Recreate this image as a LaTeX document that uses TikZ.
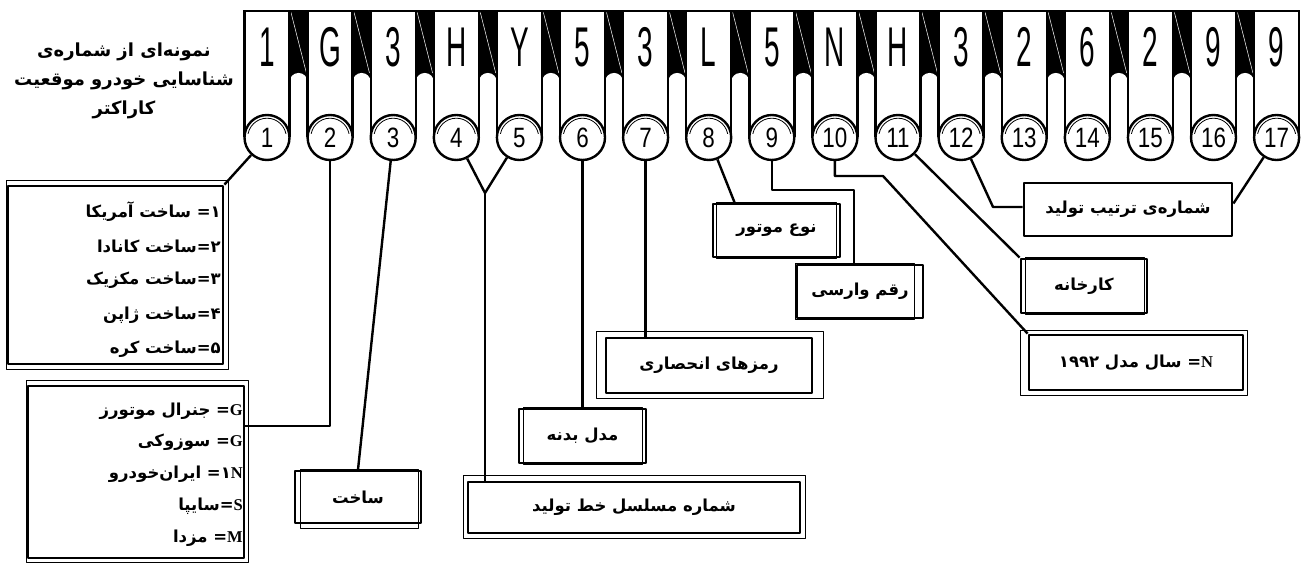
\documentclass[tikz,border=0pt]{standalone}
\usepackage{fontspec}
\TeXXeTstate=1
\newfontfamily\fa[Script=Arabic]{DejaVu Sans}
\newfontfamily\lat{Liberation Serif}
\newfontfamily\cond[FakeStretch=0.5]{Liberation Sans}
\newfontfamily\condc[FakeStretch=0.8]{Liberation Sans}
\newcommand\thinfr[5]{\draw[line width=0.7pt] ([xshift=#2pt,yshift=#3pt]#1.north west) rectangle ([xshift=#4pt,yshift=#5pt]#1.south east);}
\begin{document}
\begin{tikzpicture}[x=1pt,y=-1pt,line join=round,
  conn/.style={line width=2.4pt},
  edge/.style={line width=2.4pt},
  lbox/.style={draw,rectangle,line width=2.8pt,inner sep=0pt,font=\fa\bfseries\fontsize{16.5}{18}\selectfont},
  ltxt/.style={anchor=east,inner sep=0pt,font=\fa\bfseries\fontsize{16.5}{18}\selectfont},
  numc/.style={circle,draw,fill=white,line width=2.4pt,minimum size=45pt,inner sep=0pt,text height=20pt,text depth=0pt,font=\condc\fontsize{28}{28}\selectfont},
  letr/.style={anchor=base,inner sep=0pt,font=\cond\fontsize{56}{56}\selectfont}]
\useasboundingbox (0,0) rectangle (1305,564);
% black gaps
\foreach \i in {1,...,16}{
  \pgfmathsetmacro\cx{267+63.1*(\i-1)}
  \fill (\cx+22.5,11) rectangle (\cx+40.6,82);
  \fill[white] (\cx+31.55,82) circle[radius=9.05];
  \draw[white,line width=0.5pt] (\cx+24,12.5) -- (\cx+39.4,73);
}
% strips, letters, circles
\foreach \i/\ch in {1/1,2/G,3/3,4/H,5/Y,6/5,7/3,8/L,9/5,10/N,11/H,12/3,13/2,14/6,15/2,16/9,17/9}{
  \pgfmathsetmacro\cx{267+63.1*(\i-1)}
  \draw[edge] (\cx-22.5,11) -- (\cx-22.5,137);
  \draw[edge] (\cx+22.5,11) -- (\cx+22.5,137);
  \node[letr] (l\i) at (\cx,67) {\ch};
  \node[numc] (c\i) at (\cx,137.5) {\i};
  \begin{scope}
    \clip (\cx-25,105) rectangle (\cx+25,134);
    \draw[line width=0.8pt] (\cx,137.5) circle[radius=19.3];
  \end{scope}
}
\draw[line width=2.6pt] (243.3,11) -- (1300.3,11);
% title
\node[font=\fa\bfseries\fontsize{18}{29}\selectfont,align=center] (title) at (124,81)
  {\beginR نمونه‌ای از شماره‌ی\endR\\ \beginR شناسایی خودرو موقعیت\endR\\ \beginR کاراکتر\endR};
% boxes
\node[lbox,minimum width=215pt,minimum height=178pt] (A) at (115.5,275) {};
\node[lbox,minimum width=216pt,minimum height=172pt] (B) at (136,472) {};
\node[lbox,minimum width=126pt,minimum height=52pt] (C) at (358,497) {ساخت};
\node[lbox,minimum width=332pt,minimum height=51pt] (D) at (634,507.5) {\beginR شماره مسلسل خط تولید\endR};
\node[lbox,minimum width=127pt,minimum height=54pt] (E) at (582.5,436) {\beginR مدل بدنه\endR};
\node[lbox,minimum width=206pt,minimum height=55pt] (F) at (709,365.5) {\beginR رمزهای انحصاری\endR};
\node[lbox,minimum width=127pt,minimum height=53pt] (G) at (776.5,230.5) {\beginR نوع موتور\endR};
\node[lbox,minimum width=126pt,minimum height=53pt] (H) at (860,291.5) {\beginR رقم وارسی\endR};
\node[lbox,minimum width=214pt,minimum height=55pt] (I) at (1136,362.5) {{\beginR سال مدل ۱۹۹۲\endR} ={\lat N}};
\node[lbox,minimum width=126pt,minimum height=54pt] (J) at (1084,286) {کارخانه};
\node[lbox,minimum width=208pt,minimum height=53pt] (K) at (1128,209.5) {\beginR شماره‌ی ترتیب تولید\endR};
% thin frames
\thinfr{A}{0}{4}{4}{-4}
\thinfr{B}{0}{4}{3}{-3}
\thinfr{C}{7}{0}{-4}{-4}
\thinfr{D}{-3}{5}{4}{-4}
\thinfr{E}{6}{0}{-5}{0}
\thinfr{F}{-8}{5}{10}{-4}
\thinfr{G}{5}{0}{-5}{0}
\thinfr{H}{0}{0}{-10}{0}
\thinfr{I}{-7}{3}{3}{-4}
\thinfr{J}{6}{0}{-4}{0}
% box A lines
\node[ltxt] (a1) at (221,212) {{\beginR ساخت آمریکا\endR} =\kern0pt ۱};
\node[ltxt] (a2) at (221,246) {{\beginR ساخت کانادا\endR}=\kern0pt ۲};
\node[ltxt] (a3) at (221,280) {{\beginR ساخت مکزیک\endR}=\kern0pt ۳};
\node[ltxt] (a4) at (221,315) {{\beginR ساخت ژاپن\endR}=\kern0pt ۴};
\node[ltxt] (a5) at (221,349) {{\beginR ساخت کره\endR}=\kern0pt ۵};
% box B lines
\node[ltxt] (b1) at (243,411) {{\beginR جنرال موتورز\endR} ={\lat G}};
\node[ltxt] (b2) at (243,442) {{\beginR سوزوکی\endR} ={\lat G}};
\node[ltxt] (b3) at (243,474) {{\beginR ایران‌خودرو\endR} =\kern0pt ۱{\lat N}};
\node[ltxt] (b4) at (243,506) {{\beginR سایپا\endR}={\lat S}};
\node[ltxt] (b5) at (243,538) {{\beginR مزدا\endR} ={\lat M}};
% connectors
\coordinate (k2) at (329,426);
\coordinate (j45) at (485,193);
\coordinate (k9) at (854,190);
\coordinate (k10) at (883,176);
\coordinate (k12) at (993,207);
\draw[conn] (c1) -- (A.north east);
\draw[conn] (c2.south) -- (c2.south |- k2) -- (B.east |- k2);
\draw[conn] (c3) -- (C.north);
\draw[conn] (c4) -- (j45) -- (c5);
\draw[conn] (j45) -- (j45 |- D.north);
\draw[conn] (c6.south) -- (c6.south |- E.north);
\draw[conn] (c7.south) -- (c7.south |- F.north);
\draw[conn] (c8) -- ([xshift=23pt]G.north west);
\draw[conn] (c9.south) -- (c9.south |- k9) -- (k9) -- (k9 |- H.north);
\draw[conn] (c10.south) -- (c10.south |- k10) -- (k10) -- (I.north west);
\draw[conn] (c11) -- (J.north west);
\draw[conn] (c12) -- (k12) -- (k12 -| K.west);
\draw[conn] (c17) -- ([yshift=6pt]K.east);
\end{tikzpicture}
\end{document}
